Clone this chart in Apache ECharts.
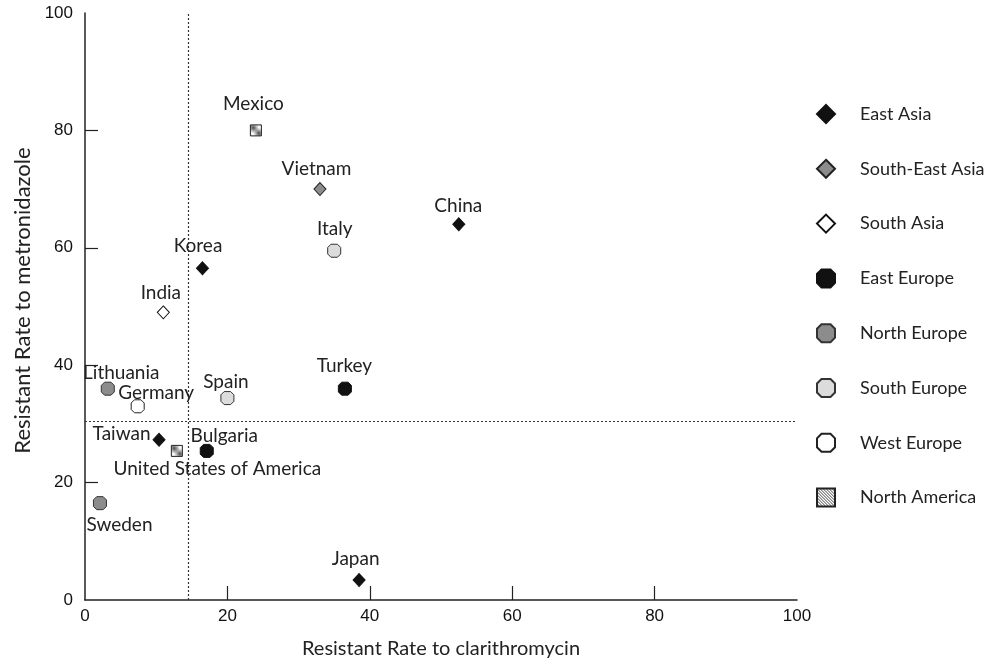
<!DOCTYPE html>
<html>
<head>
<meta charset="utf-8">
<script src="https://cdn.jsdelivr.net/npm/echarts@6/dist/echarts.min.js"></script>
<style>
html,body{margin:0;padding:0;background:#fff;}
#chart{width:999px;height:665px;}
</style>
</head>
<body>
<div id="chart"></div>
<script>
// ---- Data ----
const regions = ["East Asia","South-East Asia","South Asia","East Europe","North Europe","South Europe","West Europe","North America"];
const countries = ["Mexico","Vietnam","China","Italy","Korea","India","Lithuania","Germany","Spain","Turkey","Taiwan","United States of America","Bulgaria","Sweden","Japan"];
const countryRegion = ["North America","South-East Asia","East Asia","South Europe","East Asia","South Asia","North Europe","West Europe","South Europe","East Europe","East Asia","North America","East Europe","North Europe","East Asia"];
const clarithromycin = [24, 33, 52.5, 35, 16.5, 11, 3.2, 7.4, 20, 36.5, 10.4, 12.9, 17.1, 2.1, 38.5];
const metronidazole = [80, 70, 64, 59.5, 56.5, 49, 36, 33, 34.4, 36, 27.3, 25.4, 25.4, 16.5, 3.4];
const cutoffX = 14.5;
const cutoffY = 30.5;
const xTicks = [0, 20, 40, 60, 80, 100];
const yTicks = [0, 20, 40, 60, 80, 100];

// ---- Styles ----
const diamond = 'diamond';
const octagon = 'path://M3,0 L9,0 L12,3 L12,9 L9,12 L3,12 L0,9 L0,3 Z';
function hatch(){
  const c = document.createElement('canvas');
  c.width = 3; c.height = 3;
  const g = c.getContext('2d');
  g.fillStyle = '#ffffff'; g.fillRect(0,0,3,3);
  g.fillStyle = '#444444';
  g.fillRect(0,0,1,1); g.fillRect(1,1,1,1); g.fillRect(2,2,1,1);
  return c;
}
const regionStyle = {
  "East Asia": {symbol: diamond, size: [12,13], color: '#111111', border: '#111111'},
  "South-East Asia": {symbol: diamond, size: [12,13], color: '#8c8c8c', border: '#222222'},
  "South Asia": {symbol: diamond, size: [12,13], color: '#ffffff', border: '#111111'},
  "East Europe": {symbol: octagon, size: [13,13], color: '#111111', border: '#111111'},
  "North Europe": {symbol: octagon, size: [13,13], color: '#8c8c8c', border: '#333333'},
  "South Europe": {symbol: octagon, size: [13,13], color: '#dcdcdc', border: '#333333'},
  "West Europe": {symbol: octagon, size: [13,13], color: '#ffffff', border: '#222222'},
  "North America": {symbol: 'rect', size: [11,11], color: {image: hatch(), repeat: 'repeat'}, border: '#222222'}
};
// label centre offsets from the marker centre (px)
const labelOffset = {
  "Mexico": [-2, -26],
  "Vietnam": [-3, -20],
  "China": [0, -18],
  "Italy": [1, -21],
  "Korea": [-4, -22],
  "India": [-2, -19],
  "Lithuania": [14, -15],
  "Germany": [19, -13],
  "Spain": [-1, -16],
  "Turkey": [0, -22],
  "Taiwan": [-37, -5],
  "United States of America": [41, 18],
  "Bulgaria": [18, -15],
  "Sweden": [20, 22],
  "Japan": [-3, -21]
};

const labelFont = "Lato, 'Open Sans', sans-serif";
const numFont = "'Liberation Sans', Arial, sans-serif";

const series = regions.map(r => {
  const st = regionStyle[r];
  const data = [];
  countries.forEach((c, i) => {
    if (countryRegion[i] === r) {
      const off = labelOffset[c];
      data.push({
        name: c,
        value: [clarithromycin[i], metronidazole[i]],
        label: {
          show: true,
          position: [st.size[0] / 2 + off[0], st.size[1] / 2 + off[1]],
          align: 'center', verticalAlign: 'middle',
          formatter: c
        }
      });
    }
  });
  return {
    name: r,
    type: 'scatter',
    symbol: st.symbol,
    symbolSize: st.size,
    itemStyle: {color: st.color, borderColor: st.border, borderWidth: 1, opacity: 1},
    label: {color: '#222', fontSize: 19, fontFamily: labelFont},
    labelLayout: {hideOverlap: false},
    emphasis: {disabled: true},
    z: 5,
    data: data
  };
});

// cutoff lines
series.push({
  name: 'cutoff',
  type: 'line',
  data: [],
  silent: true,
  markLine: {
    silent: true,
    symbol: ['none','none'],
    label: {show: false},
    lineStyle: {type: [2, 2], color: '#333', width: 1.2},
    data: [{xAxis: cutoffX}, {yAxis: cutoffY}]
  }
});

const chart = echarts.init(document.getElementById('chart'), null, {renderer: 'canvas'});
chart.setOption({
  animation: false,
  backgroundColor: '#ffffff',
  grid: {left: 85, right: 202, top: 13, bottom: 65, containLabel: false},
  xAxis: {
    type: 'value', min: xTicks[0], max: xTicks[xTicks.length-1], interval: 20,
    name: 'Resistant Rate to clarithromycin', nameLocation: 'middle', nameGap: 39,
    nameTextStyle: {fontSize: 20, fontFamily: labelFont, color: '#222'},
    axisLine: {show: true, lineStyle: {color: '#222', width: 1.5}},
    axisTick: {show: true, inside: true, length: 14, lineStyle: {color: '#222', width: 1.2}, customValues: xTicks.slice(1, -1)},
    axisLabel: {fontSize: 17, fontFamily: numFont, color: '#111', margin: 8, customValues: xTicks},
    splitLine: {show: false}
  },
  yAxis: {
    type: 'value', min: yTicks[0], max: yTicks[yTicks.length-1], interval: 20,
    name: 'Resistant Rate to metronidazole', nameLocation: 'middle', nameGap: 50,
    nameTextStyle: {fontSize: 22, fontFamily: labelFont, color: '#222', padding: [0, 0, 0, 12]},
    axisLine: {show: true, lineStyle: {color: '#222', width: 1.5}},
    axisTick: {show: true, inside: true, length: 13, lineStyle: {color: '#222', width: 1.2}, customValues: yTicks.slice(1, -1)},
    axisLabel: {fontSize: 17, fontFamily: numFont, color: '#111', margin: 12, customValues: yTicks},
    splitLine: {show: false}
  },
  legend: {
    orient: 'vertical', left: 811, top: 99,
    data: regions,
    itemWidth: 18, itemHeight: 18, itemGap: 34.8,
    textStyle: {fontSize: 18, fontFamily: labelFont, color: '#222', padding: [0,0,0,20]},
    selectedMode: false
  },
  series: series
});
</script>
</body>
</html>
